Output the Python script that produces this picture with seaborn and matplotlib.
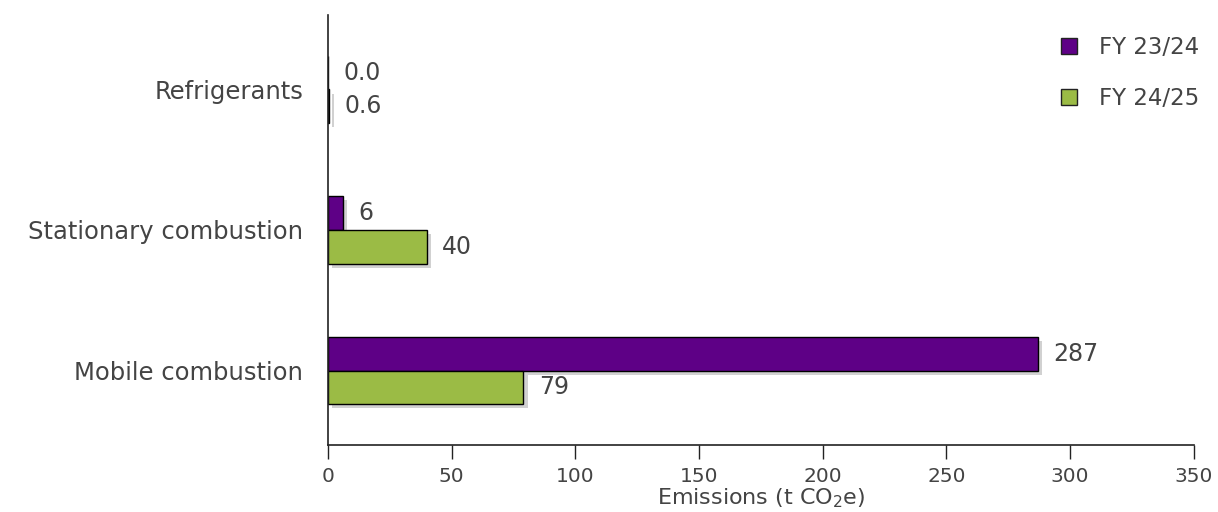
import matplotlib
matplotlib.use("Agg")
import matplotlib.pyplot as plt
import matplotlib.patheffects as pe
from matplotlib.lines import Line2D
import seaborn as sns
import pandas as pd

categories = ["Refrigerants", "Stationary combustion", "Mobile combustion"]
series_names = ["FY 23/24", "FY 24/25"]
fy2324 = [0.0, 6, 287]
fy2425 = [0.6, 40, 79]
labels_2324 = ["0.0", "6", "287"]
labels_2425 = ["0.6", "40", "79"]
xticks = [0, 50, 100, 150, 200, 250, 300, 350]

colors = ["#5E0086", "#9BBB45"]

df = pd.DataFrame({
    "category": categories * 2,
    "series": [series_names[0]] * 3 + [series_names[1]] * 3,
    "value": fy2324 + fy2425,
})

sns.set_theme(style="white")
plt.rcParams["font.family"] = ["DejaVu Sans"]
text_col = "#444444"

fig = plt.figure(figsize=(12.18, 5.12), dpi=100)
ax = fig.add_axes([0.2693, 0.1309, 0.7107, 0.8398])

sns.barplot(data=df, y="category", x="value", hue="series", order=categories,
            hue_order=series_names, palette=colors, orient="h", width=0.48,
            saturation=1, edgecolor="black", linewidth=1.0, ax=ax, legend=False)

shadow = [pe.SimplePatchShadow(offset=(3, -3), shadow_rgbFace="#999999", alpha=0.45), pe.Normal()]
for p in ax.patches:
    p.set_path_effects(shadow)

for cont, labs in zip(ax.containers, [labels_2324, labels_2425]):
    ax.bar_label(cont, labels=labs, padding=11, fontsize=17, color=text_col)

ax.set_xlim(0, 350)
ax.set_ylim(2.53, -0.53)
ax.set_xticks(xticks)
ax.set_xticklabels([str(t) for t in xticks])
ax.tick_params(axis="x", direction="out", length=10, width=1, color="#222222",
               pad=6, labelsize=14.5, labelcolor=text_col, bottom=True)
ax.tick_params(axis="y", length=0, pad=18, labelsize=17.5, labelcolor=text_col)
ax.set_ylabel("")
ax.set_xlabel("Emissions (t CO$_2$e)", fontsize=16, color=text_col, labelpad=0)

for s in ["top", "right"]:
    ax.spines[s].set_visible(False)
for s in ["left", "bottom"]:
    ax.spines[s].set_color("#222222")
    ax.spines[s].set_linewidth(1.2)

handles = [Line2D([], [], marker="s", linestyle="none", markersize=11,
                  markerfacecolor=c, markeredgecolor="#222222", markeredgewidth=1)
           for c in colors]
leg = ax.legend(handles, series_names, loc="upper right", bbox_to_anchor=(1.03, 1.0),
                frameon=False, fontsize=16.5, labelspacing=1.25, handletextpad=0.3,
                labelcolor=text_col)

fig.savefig("out.png", dpi=100)
